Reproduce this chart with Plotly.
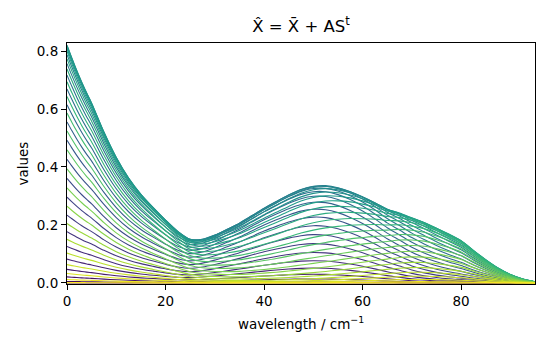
import numpy as np
import plotly.graph_objects as go
from plotly.colors import sample_colorscale

# wavelength grid (cm^-1)
wavelength = [0, 1, 2, 3, 4, 5, 7.5, 10, 12.5, 15, 17.5, 20, 22.5, 25, 27.5, 30,
              32.5, 35, 37.5, 40, 42.5, 45, 47.5, 50, 52.5, 55, 57.5, 60, 62.5,
              65, 67.5, 70, 72.5, 75, 77.5, 80, 82.5, 85, 87.5, 90, 92.5, 95]

# component spectra S
s_decay = [0.82, 0.775, 0.732, 0.692, 0.655, 0.62, 0.52, 0.432, 0.36, 0.302, 0.252,
           0.203, 0.152, 0.104, 0.074, 0.055, 0.04, 0.029, 0.021, 0.015, 0.011,
           0.008, 0.006, 0.004, 0.003, 0.003, 0.002, 0.002, 0.002, 0.001, 0.001,
           0.001, 0.001, 0.001, 0.001, 0.001, 0.001, 0.001, 0.001, 0.001, 0.001, 0.001]
s_band1 = [0, 0, 0, 0, 0, 0.0006, 0.001, 0.002, 0.004, 0.008, 0.016, 0.028, 0.05,
           0.09, 0.145, 0.205, 0.268, 0.325, 0.383, 0.437, 0.482, 0.521, 0.549,
           0.56, 0.549, 0.515, 0.465, 0.403, 0.33, 0.252, 0.185, 0.123, 0.078,
           0.048, 0.028, 0.016, 0.008, 0.004, 0.002, 0.001, 0.001, 0]
s_band2 = [0, 0, 0, 0, 0, 0, 0, 0, 0, 0, 0, 0, 0.001, 0.001, 0.002, 0.003, 0.004,
           0.006, 0.01, 0.015, 0.022, 0.032, 0.046, 0.063, 0.085, 0.112, 0.146,
           0.18, 0.218, 0.255, 0.29, 0.312, 0.318, 0.305, 0.282, 0.25, 0.195,
           0.14, 0.09, 0.05, 0.022, 0.006]

# concentration profile: overall weight and band shift fraction per spectrum
weight = [0, 0.0065, 0.0257, 0.0573, 0.1003, 0.1536, 0.216, 0.2856, 0.3608, 0.4397,
          0.5201, 0.6, 0.6773, 0.75, 0.8161, 0.8742, 0.9226, 0.96, 0.9855, 0.9984,
          1.0, 0.9935, 0.9743, 0.9427, 0.8997, 0.8462, 0.784, 0.7145, 0.6392, 0.5604,
          0.48, 0.3999, 0.3227, 0.25, 0.1837, 0.1257, 0.0774, 0.04, 0.0145, 0.0016]
shift = [0, 0.026, 0.051, 0.077, 0.103, 0.128, 0.154, 0.179, 0.205, 0.231, 0.256,
         0.282, 0.308, 0.333, 0.359, 0.385, 0.41, 0.436, 0.462, 0.487, 0.513, 0.538,
         0.564, 0.59, 0.615, 0.641, 0.667, 0.692, 0.718, 0.744, 0.769, 0.795, 0.821,
         0.846, 0.872, 0.897, 0.923, 0.949, 0.974, 1.0]

w = np.array(weight)
f = np.array(shift)
A = np.column_stack([w, w * (1 - f), w * f])
S = np.column_stack([s_decay, s_band1, s_band2])
X = A @ S.T

n = len(weight)
colors = sample_colorscale("Viridis", [i / (n - 1) for i in range(n)])

fig = go.Figure()
for i in range(n):
    fig.add_trace(go.Scatter(x=wavelength, y=X[i], mode="lines",
                             line=dict(color=colors[i], width=1.1, shape="spline", smoothing=0.8),
                             showlegend=False, hoverinfo="skip"))

font = "DejaVu Sans, Liberation Sans, sans-serif"
axis_common = dict(showline=True, mirror=True, linecolor="black", linewidth=1.1,
                   ticks="outside", ticklen=5, tickwidth=1.1, tickcolor="black",
                   showgrid=False, zeroline=False, automargin=False,
                   tickfont=dict(family=font, size=13.5, color="black"))

fig.update_layout(
    width=550, height=350,
    margin=dict(l=67, r=15, t=43, b=66),
    paper_bgcolor="white", plot_bgcolor="white",
    title=dict(text="X\u0302 = X\u0304 + AS<sup>t</sup>", x=301 / 550, xanchor="center",
               y=1 - 26 / 350, yanchor="middle", yref="container",
               font=dict(family=font, size=16.5, color="black")),
    xaxis=dict(range=[0, 95], tickvals=[0, 20, 40, 60, 80], **axis_common),
    yaxis=dict(range=[-0.0035, 0.8276], tickvals=[0, 0.2, 0.4, 0.6, 0.8],
               tickformat=".1f", **axis_common),
    annotations=[
        dict(text="wavelength / cm<sup>\u22121</sup>", xref="paper", yref="paper",
             x=0.5, y=-(323 - 284) / 241, xanchor="center", yanchor="middle",
             showarrow=False, font=dict(family=font, size=13.5, color="black")),
        dict(text="values", xref="paper", yref="paper", x=-(67 - 22) / 468,
             y=0.5, xanchor="center", yanchor="middle", textangle=-90,
             showarrow=False, font=dict(family=font, size=13.5, color="black")),
    ],
)

fig.write_html("out.html", config={"displayModeBar": False},
               post_script="document.body.style.margin='0';document.body.style.overflow='hidden';")
